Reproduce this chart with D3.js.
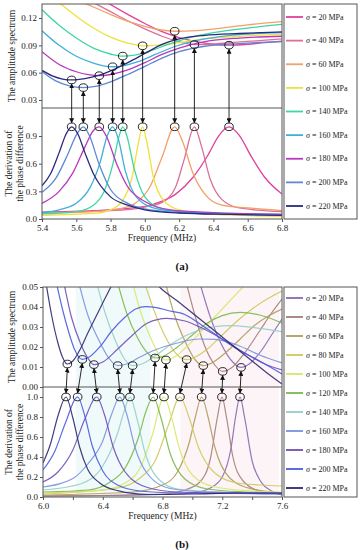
<!DOCTYPE html>
<html>
<head>
<meta charset="utf-8">
<script src="https://cdn.jsdelivr.net/npm/d3@7"></script>
<style>
  body { margin: 0; background: #fff; }
  svg { display: block; }
  svg text { font-family: "Liberation Serif", "DejaVu Serif", serif; }
</style>
</head>
<body>
<svg id="chart" width="364" height="550" font-family="Liberation Serif, serif"></svg>
<script>
// ---------- panel (a) data, legend order (20 ... 220 MPa) ----------
const stressA = [20, 40, 60, 100, 140, 160, 180, 200, 220];
const peakFreqA = [6.491, 6.289, 6.174, 5.987, 5.871, 5.812, 5.734, 5.641, 5.573];
const minAmpA = [0.0902, 0.0909, 0.1055, 0.0895, 0.0782, 0.0665, 0.0567, 0.0436, 0.052];

const ampA = [
  [[5.78,0.137],[5.9,0.124],[6.0,0.114],[6.1,0.105],[6.2,0.0985],[6.3,0.094],[6.4,0.0912],[6.491,0.0902],[6.6,0.0912],[6.7,0.093],[6.8,0.0945]],
  [[5.7,0.137],[5.8,0.127],[5.9,0.117],[6.0,0.108],[6.1,0.1],[6.2,0.094],[6.289,0.0909],[6.38,0.0912],[6.5,0.093],[6.65,0.095],[6.8,0.097]],
  [[5.64,0.137],[5.75,0.128],[5.85,0.12],[5.95,0.1135],[6.05,0.1085],[6.174,0.1055],[6.3,0.1062],[6.45,0.109],[6.6,0.1125],[6.8,0.116]],
  [[5.5,0.137],[5.6,0.122],[5.7,0.109],[5.8,0.099],[5.9,0.0925],[5.987,0.0895],[6.08,0.0903],[6.2,0.093],[6.35,0.097],[6.55,0.1],[6.8,0.102]],
  [[5.4,0.129],[5.5,0.112],[5.6,0.098],[5.7,0.087],[5.8,0.0805],[5.871,0.0782],[5.94,0.0792],[6.02,0.083],[6.12,0.09],[6.25,0.098],[6.4,0.104],[6.6,0.109],[6.8,0.113]],
  [[5.4,0.106],[5.5,0.09],[5.6,0.078],[5.7,0.0705],[5.76,0.0675],[5.812,0.0665],[5.88,0.0678],[5.96,0.072],[6.06,0.08],[6.18,0.089],[6.32,0.096],[6.5,0.101],[6.8,0.104]],
  [[5.4,0.083],[5.5,0.069],[5.6,0.061],[5.67,0.0578],[5.734,0.0567],[5.8,0.058],[5.9,0.063],[6.0,0.071],[6.1,0.08],[6.2,0.087],[6.35,0.094],[6.55,0.098],[6.8,0.1]],
  [[5.4,0.061],[5.48,0.051],[5.56,0.0455],[5.641,0.0436],[5.72,0.0452],[5.8,0.05],[5.9,0.058],[6.0,0.067],[6.1,0.076],[6.2,0.083],[6.35,0.089],[6.55,0.092],[6.8,0.094]],
  [[5.4,0.0625],[5.46,0.0565],[5.52,0.053],[5.573,0.052],[5.65,0.0535],[5.73,0.057],[5.8,0.062],[5.9,0.071],[6.0,0.081],[6.1,0.091],[6.2,0.097],[6.35,0.101],[6.55,0.103],[6.8,0.1047]]
];

const derA = [
  [[5.4,0.075],[5.7,0.09],[5.9,0.115],[6.05,0.16],[6.18,0.27],[6.28,0.45],[6.37,0.7],[6.43,0.9],[6.491,1.0],[6.55,0.91],[6.62,0.68],[6.7,0.45],[6.8,0.27]],
  [[5.4,0.07],[5.8,0.09],[6.0,0.13],[6.1,0.18],[6.18,0.35],[6.23,0.65],[6.289,1.0],[6.33,0.79],[6.38,0.44],[6.45,0.21],[6.55,0.12],[6.8,0.08]],
  [[5.4,0.065],[5.7,0.08],[5.85,0.11],[5.95,0.18],[6.03,0.35],[6.1,0.67],[6.174,1.0],[6.22,0.84],[6.28,0.5],[6.35,0.27],[6.45,0.15],[6.6,0.12],[6.8,0.09]],
  [[5.4,0.04],[5.7,0.06],[5.8,0.1],[5.87,0.2],[5.925,0.45],[5.96,0.8],[5.987,1.0],[6.015,0.8],[6.05,0.45],[6.11,0.2],[6.2,0.1],[6.4,0.05],[6.8,0.03]],
  [[5.4,0.055],[5.6,0.08],[5.7,0.15],[5.76,0.29],[5.81,0.57],[5.85,0.9],[5.871,1.0],[5.895,0.9],[5.94,0.53],[6.0,0.24],[6.1,0.11],[6.3,0.07],[6.8,0.05]],
  [[5.4,0.07],[5.5,0.1],[5.6,0.17],[5.68,0.34],[5.74,0.62],[5.78,0.9],[5.812,1.0],[5.845,0.87],[5.885,0.53],[5.95,0.24],[6.05,0.12],[6.2,0.08],[6.5,0.06],[6.8,0.05]],
  [[5.4,0.17],[5.5,0.3],[5.58,0.5],[5.65,0.78],[5.7,0.96],[5.734,1.0],[5.775,0.9],[5.835,0.6],[5.9,0.35],[6.0,0.19],[6.15,0.1],[6.4,0.07],[6.8,0.05]],
  [[5.4,0.29],[5.48,0.44],[5.55,0.7],[5.6,0.91],[5.641,1.0],[5.68,0.89],[5.73,0.61],[5.8,0.32],[5.9,0.17],[6.0,0.11],[6.2,0.07],[6.5,0.05],[6.8,0.04]],
  [[5.4,0.36],[5.45,0.49],[5.5,0.72],[5.54,0.92],[5.573,1.0],[5.61,0.92],[5.65,0.72],[5.7,0.49],[5.8,0.24],[5.9,0.15],[6.0,0.1],[6.2,0.065],[6.5,0.05],[6.8,0.04]]
];

const xTicksA = [5.4, 5.6, 5.8, 6.0, 6.2, 6.4, 6.6, 6.8];
const upTicksA = [0.03, 0.06, 0.09, 0.12];
const lowTicksA = [0.0, 0.3, 0.6, 0.9];

// ---------- panel (b) data, legend order (20 ... 220 MPa) ----------
const stressB = [20, 40, 60, 80, 100, 120, 140, 160, 180, 200, 220];
const peakFreqB = [7.319, 7.198, 7.062, 6.917, 6.81, 6.738, 6.582, 6.515, 6.36, 6.232, 6.154];
const minFreqB = [7.326, 7.203, 7.073, 6.962, 6.823, 6.75, 6.6, 6.5, 6.341, 6.263, 6.163];
const minAmpB = [0.0098, 0.0078, 0.0107, 0.0137, 0.0135, 0.0145, 0.0107, 0.0107, 0.0112, 0.0138, 0.0115];

const ampB = [
  [[7.05,0.052],[7.12,0.035],[7.19,0.022],[7.27,0.0125],[7.326,0.0098],[7.38,0.0115],[7.46,0.018],[7.53,0.026],[7.6,0.034]],
  [[6.96,0.052],[7.02,0.035],[7.08,0.021],[7.15,0.011],[7.203,0.0078],[7.26,0.0095],[7.35,0.017],[7.45,0.028],[7.53,0.037],[7.6,0.044]],
  [[6.82,0.052],[6.88,0.036],[6.95,0.023],[7.02,0.0135],[7.073,0.0107],[7.13,0.012],[7.22,0.017],[7.32,0.024],[7.42,0.031],[7.52,0.036],[7.6,0.039]],
  [[6.68,0.052],[6.75,0.037],[6.82,0.025],[6.9,0.016],[6.962,0.0137],[7.02,0.015],[7.1,0.019],[7.2,0.026],[7.3,0.033],[7.4,0.039],[7.5,0.044],[7.6,0.048]],
  [[6.6,0.052],[6.66,0.036],[6.73,0.023],[6.78,0.016],[6.823,0.0135],[6.88,0.015],[6.96,0.02],[7.05,0.027],[7.15,0.035],[7.25,0.043],[7.34,0.05],[7.45,0.057],[7.6,0.063]],
  [[6.5,0.052],[6.56,0.037],[6.63,0.025],[6.7,0.017],[6.75,0.0145],[6.8,0.0152],[6.9,0.02],[7.0,0.026],[7.1,0.032],[7.2,0.0357],[7.32,0.0373],[7.45,0.036],[7.6,0.032]],
  [[6.36,0.052],[6.42,0.036],[6.48,0.024],[6.55,0.0135],[6.6,0.0107],[6.66,0.0115],[6.75,0.0155],[6.85,0.021],[6.95,0.0255],[7.05,0.0285],[7.15,0.0302],[7.25,0.0307],[7.4,0.0298],[7.6,0.0277]],
  [[6.24,0.052],[6.3,0.036],[6.37,0.024],[6.44,0.0145],[6.5,0.0107],[6.56,0.0115],[6.65,0.015],[6.75,0.0185],[6.9,0.022],[7.05,0.024],[7.15,0.0238],[7.3,0.021],[7.45,0.016],[7.6,0.012]],
  [[6.14,0.052],[6.19,0.035],[6.25,0.022],[6.3,0.0145],[6.341,0.0112],[6.4,0.0125],[6.5,0.019],[6.6,0.026],[6.7,0.032],[6.83,0.0343],[6.95,0.033],[7.05,0.03],[7.2,0.024],[7.35,0.017],[7.5,0.011],[7.6,0.0085]],
  [[6.09,0.052],[6.13,0.039],[6.17,0.028],[6.21,0.019],[6.263,0.0138],[6.31,0.015],[6.38,0.02],[6.46,0.028],[6.55,0.035],[6.62,0.039],[6.69,0.0402],[6.76,0.0397],[6.85,0.038],[6.93,0.0368],[7.1,0.029],[7.3,0.019],[7.45,0.013],[7.6,0.0065]],
  [[6.02,0.052],[6.06,0.035],[6.1,0.022],[6.13,0.015],[6.163,0.0115],[6.2,0.013],[6.25,0.019],[6.3,0.027],[6.36,0.036],[6.42,0.045],[6.47,0.052],[6.55,0.058],[6.62,0.06],[6.7,0.057],[6.78,0.05],[6.9,0.043],[7.0,0.037],[7.1,0.031],[7.2,0.025],[7.3,0.019],[7.4,0.013],[7.5,0.007],[7.6,0.0015]]
];

const derB = [
  [[6.0,0.01],[6.8,0.025],[7.0,0.04],[7.12,0.09],[7.2,0.2],[7.26,0.5],[7.289,0.8],[7.319,1.0],[7.349,0.8],[7.4,0.36],[7.46,0.15],[7.53,0.06],[7.6,0.02]],
  [[6.0,0.01],[6.8,0.03],[6.95,0.07],[7.05,0.15],[7.12,0.38],[7.168,0.8],[7.198,1.0],[7.228,0.8],[7.27,0.41],[7.34,0.16],[7.45,0.06],[7.6,0.03]],
  [[6.0,0.02],[6.6,0.05],[6.8,0.12],[6.9,0.25],[6.98,0.55],[7.02,0.8],[7.062,1.0],[7.105,0.8],[7.15,0.5],[7.25,0.19],[7.4,0.08],[7.6,0.04]],
  [[6.0,0.03],[6.5,0.09],[6.65,0.19],[6.75,0.36],[6.84,0.72],[6.917,1.0],[6.977,0.8],[7.04,0.5],[7.15,0.24],[7.3,0.14],[7.45,0.12],[7.6,0.11]],
  [[6.0,0.04],[6.4,0.07],[6.55,0.14],[6.65,0.29],[6.73,0.61],[6.81,1.0],[6.86,0.8],[6.91,0.5],[7.0,0.22],[7.15,0.1],[7.4,0.06],[7.6,0.05]],
  [[6.0,0.05],[6.3,0.07],[6.45,0.15],[6.55,0.29],[6.64,0.6],[6.69,0.86],[6.738,1.0],[6.79,0.79],[6.85,0.44],[6.95,0.18],[7.1,0.08],[7.35,0.05],[7.6,0.04]],
  [[6.0,0.07],[6.25,0.13],[6.4,0.31],[6.5,0.64],[6.54,0.84],[6.582,1.0],[6.63,0.78],[6.68,0.46],[6.76,0.2],[6.9,0.08],[7.2,0.05],[7.6,0.04]],
  [[6.0,0.1],[6.2,0.185],[6.3,0.33],[6.4,0.56],[6.46,0.83],[6.515,1.0],[6.56,0.83],[6.615,0.5],[6.7,0.23],[6.85,0.085],[7.1,0.05],[7.6,0.04]],
  [[6.0,0.15],[6.1,0.25],[6.2,0.47],[6.28,0.78],[6.36,1.0],[6.41,0.83],[6.47,0.5],[6.55,0.25],[6.7,0.095],[6.9,0.05],[7.2,0.04],[7.6,0.035]],
  [[6.0,0.27],[6.08,0.46],[6.15,0.74],[6.232,1.0],[6.28,0.81],[6.33,0.51],[6.4,0.26],[6.5,0.12],[6.65,0.06],[6.9,0.04],[7.3,0.035],[7.6,0.03]],
  [[6.0,0.34],[6.05,0.53],[6.1,0.81],[6.154,1.0],[6.2,0.79],[6.245,0.5],[6.3,0.275],[6.38,0.14],[6.5,0.063],[6.7,0.025],[7.0,0.03],[7.3,0.04],[7.6,0.04]]
];

const xTicksB = [6.0, 6.2, 6.4, 6.6, 6.8, 7.0, 7.2, 7.4, 7.6];
const xLabelsB = [6.0, 6.4, 6.8, 7.2, 7.6];
const upTicksB = [0.00, 0.01, 0.02, 0.03, 0.04, 0.05];
const lowTicksB = [0.0, 0.2, 0.4, 0.6, 0.8, 1.0];
// faint background bands in (b), frequency ranges
const bandsB = [[6.22, 6.72], [6.92, 7.58]];

// ---------- styles ----------
const colorsA = ["#e0409c", "#dd7097", "#f2a06c", "#efe13c", "#3fd6a2", "#3fb0da", "#b938bd", "#5f88d2", "#2b2a7e"];
const colorsB = ["#8668b4", "#a57d78", "#b39a58", "#cfc85a", "#d7e76c", "#7cb848", "#93cfc6", "#7694e0", "#6d50b6", "#4a5ae0", "#2e2870"];
const bandColorsB = ["#f1fafa", "#fdf4f8"];
const serif = "Liberation Serif, serif";

const svg = d3.select("#chart");
const defs = svg.append("defs");

const marker = defs.append("marker")
  .attr("id", "head")
  .attr("viewBox", "0 0 10 10")
  .attr("refX", 9).attr("refY", 5)
  .attr("markerWidth", 5).attr("markerHeight", 5)
  .attr("markerUnits", "userSpaceOnUse")
  .attr("orient", "auto-start-reverse");
marker.append("path").attr("d", "M0,0L10,5L0,10z").attr("fill", "#111");

function drawPanel(p) {
  const g = svg.append("g").attr("font-family", serif);
  const x = d3.scaleLinear().domain(p.xDomain).range([p.left, p.right]);
  const yU = d3.scaleLinear().domain(p.upDomain).range([p.split, p.top]);
  const yL = d3.scaleLinear().domain(p.lowDomain).range([p.bottom, p.split]);

  defs.append("clipPath").attr("id", "cu" + p.id).append("rect")
    .attr("x", p.left).attr("y", p.top).attr("width", p.right - p.left).attr("height", p.split - p.top);
  defs.append("clipPath").attr("id", "cl" + p.id).append("rect")
    .attr("x", p.left).attr("y", p.split).attr("width", p.right - p.left).attr("height", p.bottom - p.split);

  if (p.bands) {
    g.selectAll("rect.band").data(p.bands).join("rect")
      .attr("class", "band")
      .attr("x", d => x(d[0])).attr("width", d => x(d[1]) - x(d[0]))
      .attr("y", p.top).attr("height", p.bottom - p.top)
      .attr("fill", (d, i) => p.bandColors[i]);
  }

  const lineU = d3.line().x(d => x(d[0])).y(d => yU(d[1])).curve(d3.curveMonotoneX);
  const lineL = d3.line().x(d => x(d[0])).y(d => yL(d[1])).curve(d3.curveMonotoneX);

  g.append("g").attr("clip-path", `url(#cu${p.id})`)
    .selectAll("path").data(p.amp).join("path")
    .attr("d", lineU).attr("fill", "none")
    .attr("stroke", (d, i) => p.colors[i]).attr("stroke-width", p.lw).attr("stroke-opacity", p.op);

  g.append("g").attr("clip-path", `url(#cl${p.id})`)
    .selectAll("path").data(p.der).join("path")
    .attr("d", lineL).attr("fill", "none")
    .attr("stroke", (d, i) => p.colors[i]).attr("stroke-width", p.lw).attr("stroke-opacity", p.op);

  // frame and divider
  g.append("rect").attr("x", p.left).attr("y", p.top)
    .attr("width", p.right - p.left).attr("height", p.bottom - p.top)
    .attr("fill", "none").attr("stroke", "#555").attr("stroke-width", 1);
  g.append("line").attr("x1", p.left).attr("x2", p.right)
    .attr("y1", p.split).attr("y2", p.split).attr("stroke", "#555").attr("stroke-width", 1);

  // axes
  const axU = g.append("g").attr("transform", `translate(${p.left},0)`)
    .call(d3.axisLeft(yU).tickValues(p.upTicks).tickSize(3).tickPadding(2).tickFormat(d3.format(p.upFmt)));
  const axL = g.append("g").attr("transform", `translate(${p.left},0)`)
    .call(d3.axisLeft(yL).tickValues(p.lowTicks).tickSize(3).tickPadding(2).tickFormat(d3.format(".1f")));
  const axX = g.append("g").attr("transform", `translate(0,${p.bottom})`)
    .call(d3.axisBottom(x).tickValues(p.xTicks).tickSize(3).tickPadding(3)
      .tickFormat(d => p.xLabels.some(v => Math.abs(v - d) < 1e-6) ? d3.format(".1f")(d) : ""));
  [axU, axL, axX].forEach(a => {
    a.attr("font-family", serif);
    a.select(".domain").remove();
    a.selectAll("line").attr("stroke", "#555");
    a.selectAll("text").attr("font-size", 9).attr("fill", "#222");
  });

  // arrows between upper minimum and lower peak
  const pairs = p.peakFreq.map((f, i) => ({ fu: p.minFreq[i], vu: p.minAmp[i], fl: f }));
  g.selectAll("line.arr").data(pairs).join("line")
    .attr("class", "arr")
    .attr("x1", d => x(d.fu)).attr("y1", d => yU(d.vu) + 4)
    .attr("x2", d => x(d.fl)).attr("y2", d => yL(1.0) - 4)
    .attr("stroke", "#111").attr("stroke-width", 0.9)
    .attr("marker-start", "url(#head)").attr("marker-end", "url(#head)");

  g.selectAll("ellipse.cu").data(pairs).join("ellipse")
    .attr("class", "cu")
    .attr("cx", d => x(d.fu)).attr("cy", d => yU(d.vu))
    .attr("rx", 4.3).attr("ry", 3.8)
    .attr("fill", "none").attr("stroke", "#111").attr("stroke-width", 0.9);
  g.selectAll("ellipse.cl").data(pairs).join("ellipse")
    .attr("class", "cl")
    .attr("cx", d => x(d.fl)).attr("cy", yL(1.0))
    .attr("rx", 4.3).attr("ry", 3.8)
    .attr("fill", "none").attr("stroke", "#111").attr("stroke-width", 0.9);

  // axis titles
  g.append("text").attr("transform", `translate(15,${(p.top + p.split) / 2}) rotate(-90)`)
    .attr("text-anchor", "middle").attr("font-size", 9.5).attr("fill", "#222")
    .text("The amplitude spectrum");
  const lowTitle = g.append("text")
    .attr("transform", `translate(0,${(p.split + p.bottom) / 2}) rotate(-90)`)
    .attr("text-anchor", "middle").attr("font-size", 9.5).attr("fill", "#222");
  lowTitle.append("tspan").attr("x", 0).attr("y", 12).text("The derivation of");
  lowTitle.append("tspan").attr("x", 0).attr("y", 23).text("the phase difference");
  g.append("text").attr("x", (p.left + p.right) / 2).attr("y", p.bottom + 22)
    .attr("text-anchor", "middle").attr("font-size", 9.5).attr("fill", "#222")
    .text("Frequency (MHz)");
  g.append("text").attr("x", 182).attr("y", p.bottom + 51)
    .attr("text-anchor", "middle").attr("font-size", 11).attr("font-weight", "bold").attr("fill", "#111")
    .text(p.label);

  // legend
  const lg = g.append("g");
  lg.append("rect").attr("x", p.legX).attr("y", p.top)
    .attr("width", 357 - p.legX).attr("height", p.bottom - p.top)
    .attr("fill", "#fff").attr("stroke", "#555").attr("stroke-width", 1);
  const ly = d3.scalePoint().domain(p.stress).range([p.legY0, p.legY1]);
  const items = lg.selectAll("g.item").data(p.stress).join("g")
    .attr("class", "item").attr("transform", d => `translate(${p.legX},${ly(d)})`);
  items.append("line").attr("x1", 2).attr("x2", 19)
    .attr("stroke", (d, i) => p.colors[i]).attr("stroke-width", 1.8);
  const t = items.append("text").attr("x", 22).attr("dy", "0.33em")
    .attr("font-size", 8).attr("fill", "#222");
  t.append("tspan").attr("font-style", "italic").text("σ");
  t.append("tspan").text(d => ` = ${d} MPa`);
}

drawPanel({
  id: "a", label: "(a)",
  left: 42, right: 282, top: 4, split: 108, bottom: 219,
  xDomain: [5.4, 6.8], upDomain: [0.0212, 0.1354], lowDomain: [0, 1.204],
  xTicks: xTicksA, xLabels: xTicksA, upTicks: upTicksA, lowTicks: lowTicksA, upFmt: ".2f",
  amp: ampA, der: derA, colors: colorsA, stress: stressA,
  peakFreq: peakFreqA, minFreq: peakFreqA, minAmp: minAmpA,
  legX: 284, legY0: 17, legY1: 206, lw: 1.3, op: 1
});

drawPanel({
  id: "b", label: "(b)",
  left: 43, right: 282, top: 287, split: 387, bottom: 497,
  xDomain: [6.0, 7.6], upDomain: [0, 0.05], lowDomain: [0, 1.1],
  xTicks: xTicksB, xLabels: xLabelsB, upTicks: upTicksB, lowTicks: lowTicksB, upFmt: ".2f",
  amp: ampB, der: derB, colors: colorsB, stress: stressB,
  peakFreq: peakFreqB, minFreq: minFreqB, minAmp: minAmpB,
  bands: bandsB, bandColors: bandColorsB,
  legX: 284, legY0: 298, legY1: 488, lw: 1.2, op: 0.9
});
</script>
</body>
</html>
